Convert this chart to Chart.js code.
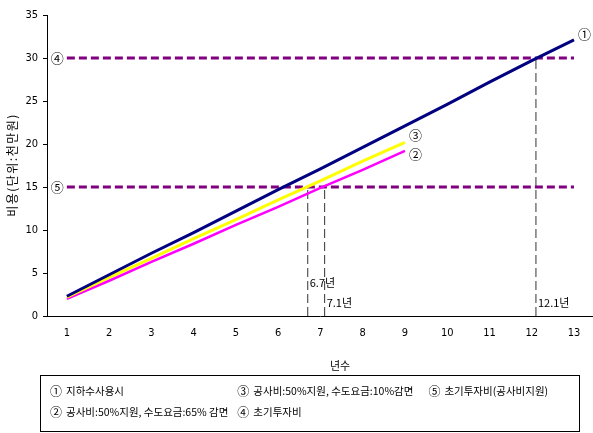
<!DOCTYPE html>
<html>
<head>
<meta charset="utf-8">
<script src="https://cdn.jsdelivr.net/npm/chart.js@4/dist/chart.umd.min.js"></script>
<style>
  html, body { margin: 0; padding: 0; background: #fff; }
  #wrap { width: 593px; height: 433px; }
</style>
</head>
<body>
<div id="wrap"><canvas id="c" width="593" height="433"></canvas></div>
<script>
// Years on the x axis
const years = [1, 2, 3, 4, 5, 6, 7, 8, 9, 10, 11, 12, 13];
// Cumulative cost (unit: 천만원)
const groundwater = [2.3, 4.8, 7.3, 9.7, 12.2, 14.7, 17.1, 19.6, 22.1, 24.6, 27.2, 29.7, 32.1];
const subsidy65 = [2.0, 4.1, 6.3, 8.4, 10.6, 12.7, 14.9, 17.0, 19.2];
const subsidy10 = [2.2, 4.5, 6.7, 9.0, 11.2, 13.5, 15.7, 18.0, 20.2];
// Initial investment levels
const initialInvestment = 30;
const initialInvestmentSubsidized = 15;
// Break-even years and the cost level each one meets
const breakEvenYears = [6.7, 7.1, 12.1];
const breakEvenLevels = [15, 15, 30];
const breakEvenLabels = ['6.7년', '7.1년', '12.1년'];
const yTicks = [0, 5, 10, 15, 20, 25, 30, 35];

const legendItems = [
  ['①', '지하수사용시'],
  ['②', '공사비:50%지원, 수도요금:65% 감면'],
  ['③', '공사비:50%지원, 수도요금:10%감면'],
  ['④', '초기투자비'],
  ['⑤', '초기투자비(공사비지원)']
];

const KFONT = '"Noto Sans CJK KR", "Noto Sans", sans-serif';
const NFONT = '"Liberation Sans Narrow", "DejaVu Sans Condensed", "Noto Sans CJK KR", sans-serif';

const pts = (xs, ys) => ys.map((v, i) => ({ x: xs[i], y: v }));
const flat = (level) => [{ x: years[0], y: level }, { x: years[years.length - 1], y: level }];

const datasets = [
  { data: pts(years, groundwater), borderColor: '#000080', borderWidth: 3 },
  { data: pts(years, subsidy10), borderColor: '#ffff00', borderWidth: 3 },
  { data: pts(years, subsidy65), borderColor: '#ff00ff', borderWidth: 2.5 },
  { data: flat(initialInvestment), borderColor: '#800080', borderWidth: 3, borderDash: [8, 4] },
  { data: flat(initialInvestmentSubsidized), borderColor: '#800080', borderWidth: 3, borderDash: [8, 4] }
];
breakEvenYears.forEach((yr, i) => {
  datasets.push({
    data: [{ x: yr, y: 0 }, { x: yr, y: breakEvenLevels[i] }],
    borderColor: '#333', borderWidth: 1, borderDash: [9, 4]
  });
});
datasets.forEach(d => { d.pointRadius = 0; d.fill = false; d.tension = 0; });

const annotate = {
  id: 'annotate',
  afterDraw(chart) {
    const { ctx, scales: { x, y }, chartArea } = chart;
    ctx.save();
    ctx.fillStyle = '#000';
    ctx.textBaseline = 'middle';

    // circled series markers
    ctx.font = '13px ' + KFONT;
    ctx.textAlign = 'left';
    const last = (arr, xs) => ({ px: x.getPixelForValue(xs[arr.length - 1]), py: y.getPixelForValue(arr[arr.length - 1]) });
    let p = last(groundwater, years);
    ctx.fillText('①', p.px + 4, p.py - 6);
    p = last(subsidy10, years);
    ctx.fillText('③', p.px + 4, p.py - 7);
    p = last(subsidy65, years);
    ctx.fillText('②', p.px + 4, p.py + 3);
    ctx.textAlign = 'right';
    ctx.fillText('④', x.getPixelForValue(years[0]) - 3, y.getPixelForValue(initialInvestment));
    ctx.fillText('⑤', x.getPixelForValue(years[0]) - 3, y.getPixelForValue(initialInvestmentSubsidized));

    // break-even year labels
    ctx.font = '11px ' + KFONT;
    ctx.textAlign = 'left';
    const offs = [33, 13, 13];
    breakEvenYears.forEach((yr, i) => {
      ctx.fillText(breakEvenLabels[i], x.getPixelForValue(yr) + 2, chartArea.bottom - offs[i]);
    });

    // axis titles
    ctx.textAlign = 'center';
    ctx.fillText('년수', (x.left + x.right) / 2 + 20, chartArea.bottom + 50);
    ctx.save();
    ctx.translate(12, 165);
    ctx.rotate(-Math.PI / 2);
    ctx.font = '12px ' + KFONT;
    ctx.letterSpacing = '1.5px';
    ctx.fillText('비용(단위:천만원)', 0, 0);
    ctx.restore();

    // legend box
    ctx.strokeStyle = '#000';
    ctx.lineWidth = 1;
    ctx.strokeRect(40.5, 375.5, 539, 56);
    const markFont = '12px ' + KFONT;
    const textFont = '10.5px ' + KFONT;
    ctx.textAlign = 'left';
    const itemWidth = (it) => { ctx.font = textFont; return 16 + ctx.measureText(it[1]).width; };
    const col1 = 50;
    const col2 = col1 + itemWidth(legendItems[1]) + 9;
    const col3 = col2 + itemWidth(legendItems[2]) + 15;
    const cols = [col1, col2, col3];
    const rows = [391, 412];
    const place = [[0, 0], [0, 1], [1, 0], [1, 1], [2, 0]];
    legendItems.forEach((it, i) => {
      const cx = cols[place[i][0]], cy = rows[place[i][1]];
      ctx.font = markFont;
      ctx.fillText(it[0], cx, cy);
      ctx.font = textFont;
      ctx.fillText(it[1], cx + 16, cy);
    });
    ctx.restore();
  }
};

new Chart(document.getElementById('c'), {
  type: 'line',
  data: { datasets },
  options: {
    responsive: false,
    animation: false,
    events: [],
    layout: { padding: { top: 15, left: 0, right: 0, bottom: 0 } },
    plugins: { legend: { display: false }, tooltip: { enabled: false }, title: { display: false } },
    scales: {
      x: {
        type: 'linear',
        min: 0.53,
        max: 13.45,
        afterFit: (s) => { s.height = 117; },
        afterBuildTicks: (s) => { s.ticks = years.map(v => ({ value: v })); },
        grid: { display: true, drawOnChartArea: false, drawTicks: false },
        border: { display: true, color: '#000', width: 1 },
        ticks: { color: '#000', padding: 11, maxRotation: 0, autoSkip: false, font: { family: NFONT, size: 11 } }
      },
      y: {
        min: 0,
        max: 35,
        afterFit: (s) => { s.width = 47; },
        afterBuildTicks: (s) => { s.ticks = yTicks.map(v => ({ value: v })); },
        grid: { display: true, drawOnChartArea: false, drawTicks: true, tickLength: 4, color: '#000' },
        border: { display: true, color: '#000', width: 1 },
        ticks: { color: '#000', padding: 5, font: { family: NFONT, size: 11 } }
      }
    }
  },
  plugins: [annotate]
});
</script>
</body>
</html>
